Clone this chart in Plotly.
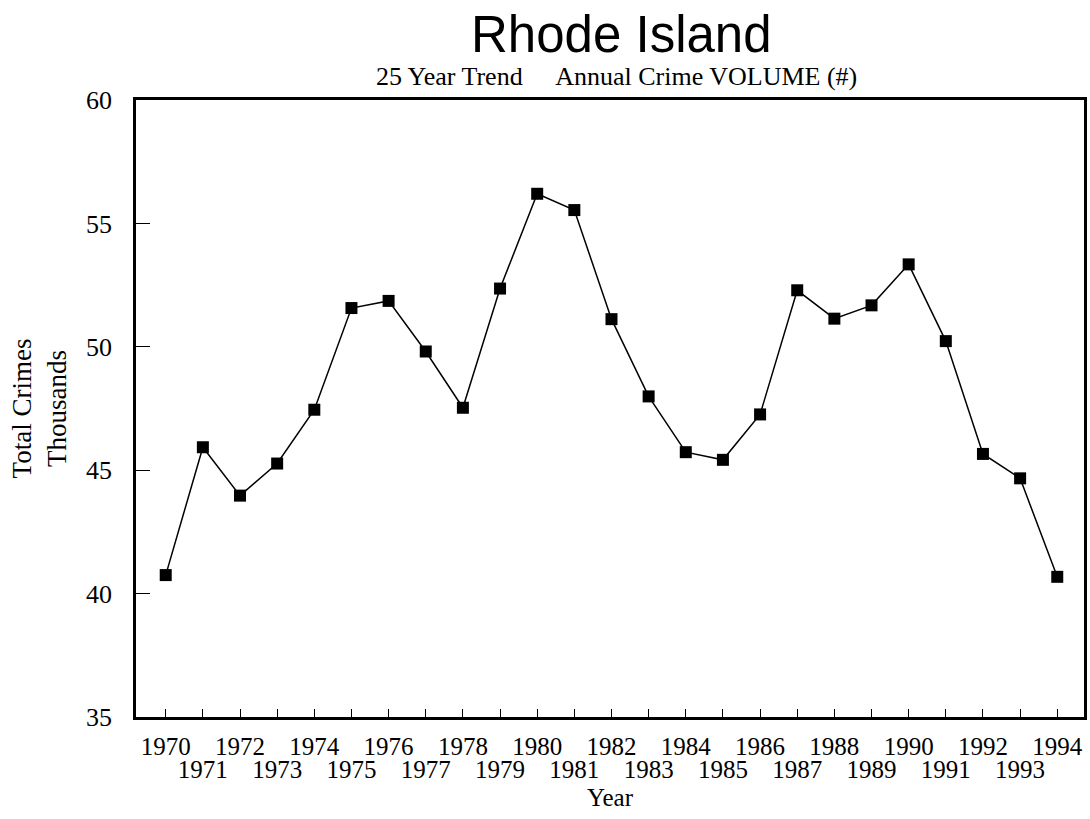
import plotly.graph_objects as go

years = list(range(1970, 1995))
crimes_thousands = [40.75, 45.93, 43.97, 45.27, 47.45, 51.57, 51.86, 49.81, 47.53, 52.36,
                    56.20, 55.54, 51.12, 47.99, 45.73, 45.42, 47.26, 52.29, 51.14, 51.68,
                    53.34, 50.23, 45.66, 44.67, 40.68]
even_years = [y for y in years if y % 2 == 0]
odd_years = [y for y in years if y % 2 == 1]
y_ticks = [35, 40, 45, 50, 55, 60]

serif = "Liberation Serif, Times New Roman, serif"
black = "black"

fig = go.Figure()
fig.add_trace(go.Scatter(
    x=years, y=crimes_thousands, mode="lines+markers",
    line=dict(color=black, width=1.5),
    marker=dict(symbol="square", size=12, color=black),
    showlegend=False,
))
# invisible companion trace so the second (odd-year label) axis is drawn
fig.add_trace(go.Scatter(
    x=years, y=crimes_thousands, mode="markers", xaxis="x2",
    marker=dict(opacity=0), showlegend=False, hoverinfo="skip",
))

fig.update_layout(
    width=1090, height=819,
    paper_bgcolor="white", plot_bgcolor="white",
    margin=dict(l=136, r=3, t=100, b=102),
    title=dict(text="Rhode Island", x=0.57, xanchor="center", y=0.958, yanchor="middle",
               font=dict(family="Liberation Sans, Arial, sans-serif", size=51, color=black)),
    font=dict(family=serif, color=black),
    annotations=[dict(text="25 Year Trend&nbsp;&nbsp;&nbsp;&nbsp;&nbsp;Annual Crime VOLUME (#)",
                      xref="paper", yref="paper", x=0.507, y=1.0, yshift=24,
                      xanchor="center", yanchor="middle", showarrow=False,
                      font=dict(family=serif, size=26, color=black))],
    xaxis=dict(
        range=[1969.2, 1994.72], tickmode="array", tickvals=even_years,
        ticktext=[str(y) for y in even_years],
        ticks="inside", ticklen=8, tickwidth=1.2, tickcolor=black,
        showline=True, linewidth=2.5, linecolor=black, mirror=True,
        showgrid=False, zeroline=False, tickangle=0,
        tickfont=dict(family=serif, size=25, color=black), ticklabelstandoff=5,
    ),
    xaxis2=dict(
        overlaying="x", matches="x", side="bottom", anchor="y",
        range=[1969.2, 1994.72], tickmode="array", tickvals=odd_years,
        ticktext=[str(y) for y in odd_years],
        ticks="inside", ticklen=8, tickwidth=1.2, tickcolor=black,
        showline=False, showgrid=False, zeroline=False, tickangle=0,
        tickfont=dict(family=serif, size=25, color=black), ticklabelstandoff=35,
        title=dict(text="Year", font=dict(family=serif, size=25, color=black), standoff=6),
    ),
    yaxis=dict(
        range=[35, 60], tickmode="array", tickvals=y_ticks,
        ticks="inside", ticklen=14, tickwidth=1.2, tickcolor=black,
        showline=True, linewidth=2.5, linecolor=black, mirror=True,
        showgrid=False, zeroline=False,
        tickfont=dict(family=serif, size=26, color=black), ticklabelstandoff=16,
        title=dict(text="Total Crimes<br>Thousands",
                   font=dict(family=serif, size=27, color=black), standoff=12),
    ),
)

fig.write_html("out.html", config={"displayModeBar": False},
               post_script="document.body.style.margin='0';")
